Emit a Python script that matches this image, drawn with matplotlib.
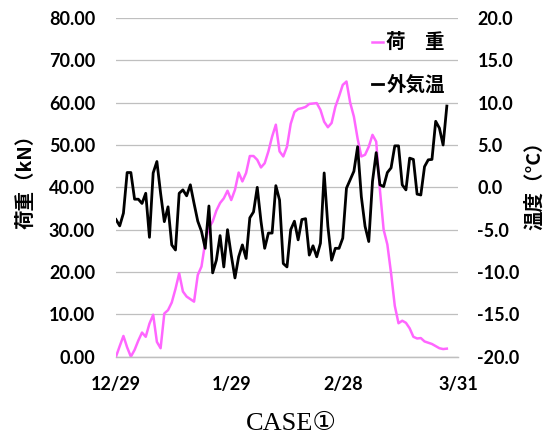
import numpy as np
import pandas as pd
import matplotlib
matplotlib.use("Agg")
import matplotlib.pyplot as plt

# daily readings from 12/29 onward
start_date = "2018-12-29"
load_kn = [0.0, 2.5, 4.9, 2.2, 0.0, 1.6, 3.8, 5.7, 4.7, 7.8,
           9.9, 3.5, 2.0, 10.2, 11.0, 12.8, 16.0, 19.7, 15.4, 14.2,
           13.6, 13.0, 19.3, 21.3, 27.0, 30.5, 31.9, 34.5, 36.3, 37.4,
           39.2, 37.0, 39.4, 43.5, 41.4, 43.4, 47.4, 47.4, 46.5, 44.7,
           45.7, 48.5, 52.0, 54.8, 48.5, 47.3, 49.6, 55.0, 57.8, 58.5,
           58.7, 59.0, 59.7, 59.8, 59.9, 58.3, 55.5, 54.2, 55.2, 59.0,
           61.5, 64.2, 65.0, 60.0, 56.7, 51.5, 47.3, 47.7, 49.6, 52.4,
           50.8, 39.4, 30.0, 26.5, 19.7, 12.0, 7.9, 8.5, 8.0, 6.7,
           4.7, 4.3, 4.4, 3.6, 3.3, 3.0, 2.5, 2.0, 1.8, 1.9]
temp_c = [-3.8, -4.55, -3.05, 1.75, 1.75, -1.4, -1.4, -1.9, -0.7, -5.9,
          1.7, 3.05, -0.7, -4.05, -2.3, -6.8, -7.4, -0.7, -0.3, -1.0,
          0.3, -1.9, -4.0, -5.2, -7.2, -2.2, -10.1, -8.6, -5.7, -9.4,
          -5.0, -8.0, -10.7, -8.2, -6.8, -8.4, -3.6, -2.9, 0.0, -4.0,
          -7.2, -5.4, -5.4, 0.2, -1.5, -9.0, -9.4, -5.0, -4.0, -6.2,
          -3.8, -3.7, -8.0, -6.9, -8.2, -6.6, 1.7, -4.6, -8.6, -7.2,
          -7.2, -6.0, -0.1, 0.9, 1.9, 4.8, -1.1, -4.6, -6.4, 0.7,
          4.1, 0.3, 0.1, 1.75, 2.3, 4.9, 4.9, 0.3, -0.3, 3.45,
          3.3, -0.8, -0.9, 2.45, 3.25, 3.3, 7.8, 7.0, 5.0, 9.6]
tick_dates = ["2018-12-29", "2019-01-29", "2019-02-28", "2019-03-31"]
tick_labels = ["12/29", "1/29", "2/28", "3/31"]
load_ticks = [0, 10, 20, 30, 40, 50, 60, 70, 80]
temp_ticks = [-20, -15, -10, -5, 0, 5, 10, 15, 20]

dates = pd.date_range(start_date, periods=len(load_kn), freq="D")

cjk = ["Noto Sans CJK JP", "DejaVu Sans"]
num = ["Lato", "DejaVu Sans"]
pink = "#FF66FF"
grid_c = "#BFBFBF"

fig = plt.figure(figsize=(5.5, 4.36), dpi=100)
ax = fig.add_axes([0.2109, 0.1819, 0.6218, 0.7768])
ax2 = ax.twinx()

l1, = ax.plot(dates, load_kn, color=pink, lw=1.8, label="荷　重")
l2, = ax2.plot(dates, temp_c, color="black", lw=2.0, label="外気温")

ax.set_ylim(0, 80)
ax2.set_ylim(-20, 20)
ax.set_xlim(pd.Timestamp(tick_dates[0]), pd.Timestamp(tick_dates[-1]))

ax.set_yticks(load_ticks)
ax.set_yticklabels([f"{v:.2f}" for v in load_ticks], family=num,
                   fontweight="bold", fontsize=13)
ax2.set_yticks(temp_ticks)
ax2.set_yticklabels([f"{v:.1f}" for v in temp_ticks], family=num,
                    fontweight="bold", fontsize=13)
ax.set_xticks([pd.Timestamp(d) for d in tick_dates])
ax.set_xticklabels(tick_labels, family=num, fontweight="bold", fontsize=13)

ax.tick_params(axis="y", length=0, pad=15)
ax2.tick_params(axis="y", length=0, pad=14)
ax.tick_params(axis="x", length=0, pad=14)

ax.grid(axis="y", color=grid_c, lw=0.9)
ax.set_axisbelow(True)
for a in (ax, ax2):
    for s in ("top", "left", "right"):
        a.spines[s].set_visible(False)
    a.spines["bottom"].set_color(grid_c)
    a.spines["bottom"].set_linewidth(0.9)

ax.set_ylabel("荷重（kN）", family=cjk, fontweight="bold", fontsize=14)
ax.yaxis.set_label_coords(-0.237, 0.53)
ax2.set_ylabel("温度（°C）", family=cjk, fontweight="bold", fontsize=14,
               rotation=90)
ax2.yaxis.set_label_coords(1.196, 0.52)

ax2.legend(handles=[l1, l2], loc="upper left", bbox_to_anchor=(0.725, 0.978),
           frameon=False, handlelength=0.6, handletextpad=0.15,
           labelspacing=1.2, borderaxespad=0,
           prop={"family": cjk, "weight": "bold", "size": 14})

fig.text(0.53, 0.027, "CASE①", family=["Liberation Serif", "DejaVu Serif", "DejaVu Sans"],
         fontsize=19, ha="center", va="center")

fig.savefig("out.png", dpi=100)
